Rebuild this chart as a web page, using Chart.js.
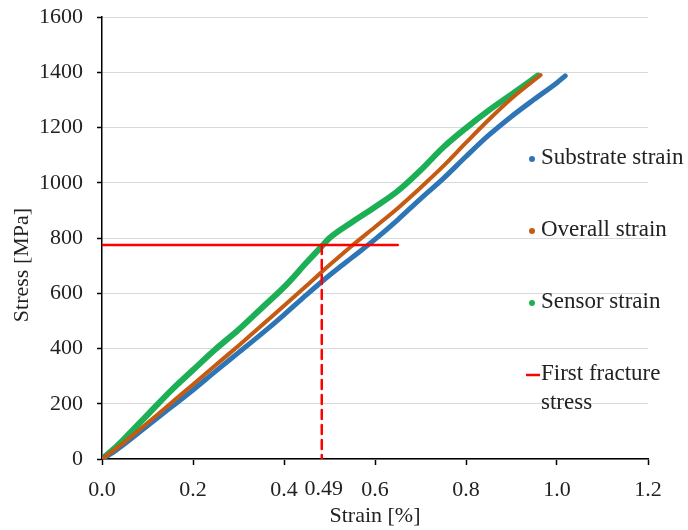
<!DOCTYPE html>
<html>
<head>
<meta charset="utf-8">
<script src="https://cdn.jsdelivr.net/npm/chart.js@4/dist/chart.umd.min.js"></script>
<style>
    html, body { margin: 0; padding: 0; background: #fff; }
</style>
</head>
<body>
<canvas id="graphic-stress" width="688" height="530"></canvas>
<script>
// values (strain in %, stress in MPa)
const substrateStrain = [0, 0.025, 0.05, 0.1, 0.15, 0.2, 0.25, 0.3, 0.35, 0.4, 0.45, 0.5, 0.55, 0.6, 0.65, 0.7, 0.75, 0.8, 0.85, 0.9, 0.95, 1.0, 1.018];
const substrateStress = [0, 25, 55, 120, 185, 250, 318, 385, 452, 522, 595, 665, 730, 795, 866, 942, 1015, 1095, 1172, 1240, 1302, 1362, 1387];

const overallStrain = [0, 0.025, 0.05, 0.1, 0.15, 0.2, 0.25, 0.3, 0.35, 0.4, 0.45, 0.5, 0.55, 0.6, 0.65, 0.7, 0.75, 0.8, 0.85, 0.9, 0.964];
const overallStress = [0, 30, 62, 130, 200, 270, 340, 410, 482, 555, 628, 702, 773, 840, 908, 982, 1060, 1145, 1228, 1305, 1390];

const sensorStrain = [0, 0.025, 0.05, 0.1, 0.15, 0.2, 0.25, 0.3, 0.35, 0.4, 0.45, 0.483, 0.5, 0.55, 0.6, 0.65, 0.7, 0.75, 0.8, 0.85, 0.9, 0.958];
const sensorStress = [0, 35, 75, 160, 245, 322, 398, 468, 545, 622, 712, 770, 800, 858, 912, 970, 1045, 1128, 1198, 1262, 1320, 1388];

const fractureStress = 775;
const fractureStrain = 0.483;
const fractureLineEnd = 0.65;
const fractureLabel = '0.49';

const legendLabels = ['Substrate strain', 'Overall strain', 'Sensor strain', 'First fracture', 'stress'];
const colors = ['#2E75B6', '#C55A11', '#1DAF55', '#FF0000'];

const fontFamily = "'Liberation Serif', 'Times New Roman', serif";

function toPoints(xs, ys) {
    let pts = [];
    xs.forEach((x, i) => {
        pts.push({ x: x, y: ys[i] });
    });
    return pts;
}

const legendPlugin = {
    id: 'sideLegend',
    afterDraw(chart) {
        const ctx = chart.ctx;
        const xs = chart.scales.x;
        ctx.save();
        ctx.font = '23px ' + fontFamily;
        ctx.fillStyle = '#222';
        ctx.textBaseline = 'middle';
        ctx.textAlign = 'left';

        const rows = [158, 230, 302];
        rows.forEach((y, i) => {
            ctx.beginPath();
            ctx.fillStyle = colors[i];
            ctx.arc(532, y + 1, 3, 0, Math.PI * 2);
            ctx.fill();
            ctx.fillStyle = '#222';
            ctx.fillText(legendLabels[i], 541, y);
        });

        ctx.strokeStyle = colors[3];
        ctx.lineWidth = 2.5;
        ctx.beginPath();
        ctx.moveTo(526, 375);
        ctx.lineTo(540, 375);
        ctx.stroke();
        ctx.fillText(legendLabels[3], 541, 374);
        ctx.fillText(legendLabels[4], 541, 403);

        // extra strain label under the dashed line
        ctx.font = '22px ' + fontFamily;
        ctx.textAlign = 'center';
        ctx.fillText(fractureLabel, xs.getPixelForValue(fractureStrain) + 2, 489);

        // y axis title, sits a bit below the middle of the axis
        ctx.translate(22, 265);
        ctx.rotate(-Math.PI / 2);
        ctx.fillText('Stress [MPa]', 0, 0);
        ctx.restore();
    }
};

const data = {
    datasets: [{
        label: 'Substrate strain',
        data: toPoints(substrateStrain, substrateStress),
        borderColor: colors[0],
        backgroundColor: colors[0],
        borderWidth: 5,
        order: 3
    }, {
        label: 'Overall strain',
        data: toPoints(overallStrain, overallStress),
        borderColor: colors[1],
        backgroundColor: colors[1],
        borderWidth: 4,
        order: 2
    }, {
        label: 'Sensor strain',
        data: toPoints(sensorStrain, sensorStress),
        borderColor: colors[2],
        backgroundColor: colors[2],
        borderWidth: 6,
        order: 4
    }, {
        label: 'First fracture stress',
        data: [{ x: 0, y: fractureStress }, { x: fractureLineEnd, y: fractureStress }],
        borderColor: colors[3],
        borderWidth: 2.5,
        cubicInterpolationMode: 'default',
        order: 1
    }, {
        label: 'fracture strain',
        data: [{ x: fractureStrain, y: fractureStress }, { x: fractureStrain, y: 0 }],
        borderColor: colors[3],
        borderWidth: 2.5,
        borderDash: [9, 6],
        cubicInterpolationMode: 'default',
        order: 1
    }]
};

const config = {
    type: 'scatter',
    data: data,
    options: {
        responsive: false,
        animation: false,
        showLine: true,
        elements: {
            point: { radius: 0 },
            line: { cubicInterpolationMode: 'monotone', borderCapStyle: 'round', borderJoinStyle: 'round', fill: false }
        },
        layout: { padding: { top: 17, right: 40, left: 0, bottom: 0 } },
        plugins: {
            legend: { display: false },
            tooltip: { enabled: false }
        },
        scales: {
            x: {
                type: 'linear',
                min: 0,
                max: 1.2,
                ticks: {
                    stepSize: 0.2,
                    padding: 12,
                    color: '#222',
                    font: { family: fontFamily, size: 22 },
                    callback: v => v.toFixed(1)
                },
                grid: { drawOnChartArea: false, tickLength: 6, tickColor: '#000', tickWidth: 1.5 },
                border: { color: '#000', width: 1.5 },
                title: {
                    display: true,
                    text: 'Strain [%]',
                    color: '#222',
                    font: { family: fontFamily, size: 22 },
                    padding: { top: 0, bottom: 1 }
                },
                afterFit: s => { s.height = 71; }
            },
            y: {
                min: 0,
                max: 1600,
                ticks: {
                    stepSize: 200,
                    padding: 14,
                    color: '#222',
                    font: { family: fontFamily, size: 22 },
                    callback: v => String(v)
                },
                grid: { color: '#d9d9d9', lineWidth: 1, tickLength: 5, tickColor: '#000', tickWidth: 1.5 },
                border: { color: '#000', width: 1.5 },
                afterFit: s => {
                    s.width = 102;
                    s.paddingTop = 0;
                    s.paddingBottom = 0;
                }
            }
        }
    },
    plugins: [legendPlugin]
};

new Chart(document.getElementById('graphic-stress'), config);
</script>
</body>
</html>
